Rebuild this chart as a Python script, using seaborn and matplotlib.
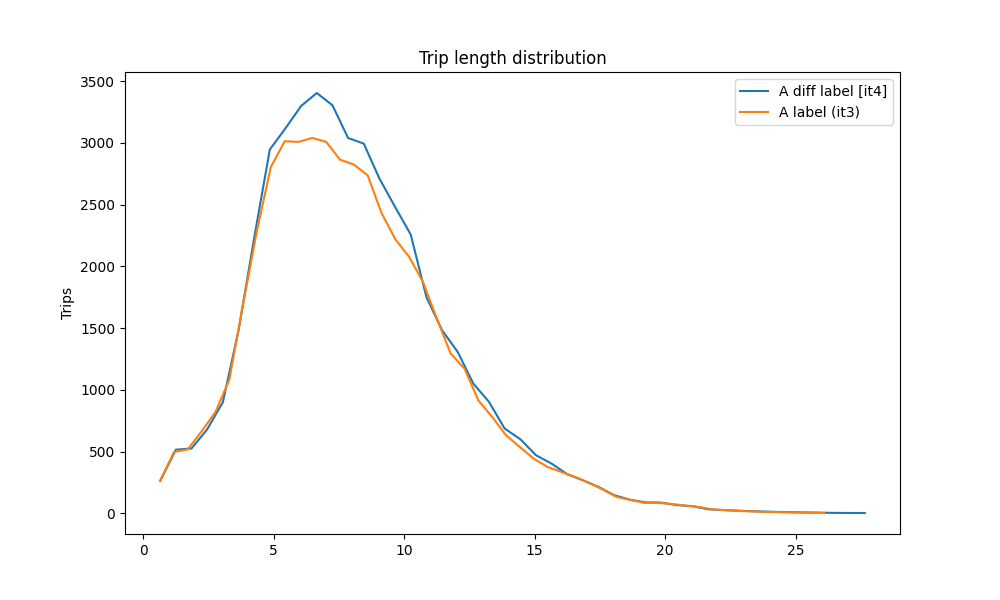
import matplotlib
matplotlib.use("Agg")
import matplotlib.pyplot as plt
import seaborn as sns

# --- data ---
dist_it4 = [0.65, 1.25, 1.85, 2.45, 3.05, 3.65, 4.25, 4.85, 5.45, 6.05, 6.65, 7.25,
            7.85, 8.45, 9.05, 9.65, 10.25, 10.85, 11.45, 12.05, 12.65, 13.25, 13.85,
            14.45, 15.05, 15.65, 16.25, 16.85, 17.45, 18.05, 18.65, 19.25, 19.85,
            20.45, 21.05, 21.65, 22.25, 22.85, 23.45, 24.05, 24.65, 25.25, 25.85,
            26.45, 27.05, 27.65]
trips_it4 = [262, 515, 525, 680, 900, 1480, 2230, 2947, 3119, 3300, 3405, 3306,
             3040, 2995, 2712, 2482, 2258, 1752, 1483, 1307, 1050, 902, 686,
             600, 470, 402, 316, 267, 213, 146, 110, 88, 86,
             66, 57, 32, 26, 20, 16, 12, 9, 7, 5,
             3, 2, 2]

dist_it3 = [0.65, 1.18, 1.71, 2.24, 2.77, 3.30, 3.83, 4.36, 4.89, 5.42, 5.95, 6.48,
            7.01, 7.54, 8.07, 8.60, 9.13, 9.66, 10.19, 10.72, 11.25, 11.78, 12.31,
            12.84, 13.37, 13.90, 14.43, 14.96, 15.49, 16.02, 16.55, 17.08, 17.61,
            18.14, 18.67, 19.20, 19.73, 20.26, 20.79, 21.32, 21.85, 22.38, 22.91,
            23.44, 23.97, 24.50, 25.03, 25.56, 26.09]
trips_it3 = [265, 497, 518, 665, 821, 1085, 1699, 2293, 2806, 3014, 3009, 3041,
             3009, 2865, 2825, 2738, 2433, 2220, 2077, 1874, 1577, 1294, 1172,
             915, 780, 632, 537, 443, 375, 335, 294, 246, 192,
             132, 108, 84, 84, 75, 62, 50, 30, 24, 18,
             14, 10, 8, 6, 4, 2]

label_it4 = "A diff label [it4]"
label_it3 = "A label (it3)"

fig, ax = plt.subplots(figsize=(10, 6), dpi=100)

sns.lineplot(x=dist_it4, y=trips_it4, ax=ax, label=label_it4, color="tab:blue")
sns.lineplot(x=dist_it3, y=trips_it3, ax=ax, label=label_it3, color="tab:orange")

ax.set_title("Trip length distribution")
ax.set_ylabel("Trips")
ax.set_xlabel("")
ax.legend(loc="upper right")

fig.savefig("out.png")
